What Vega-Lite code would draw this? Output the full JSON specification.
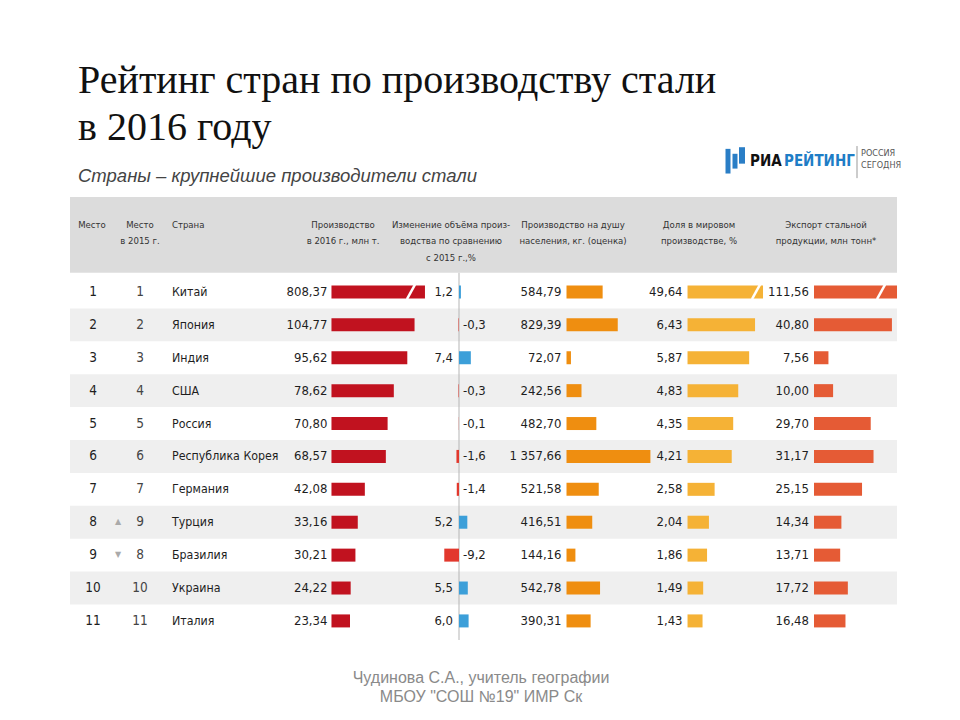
{
  "$schema": "https://vega.github.io/schema/vega-lite/v6.json",
  "width": 960,
  "height": 720,
  "padding": 0,
  "autosize": "none",
  "background": "white",
  "config": {
    "view": {"stroke": null},
    "locale": {"number": {"decimal": ",", "thousands": " ", "grouping": [3], "currency": ["", ""], "minus": "-"}},
    "text": {"font": "'Liberation Sans Narrow', 'DejaVu Sans Condensed', 'Liberation Sans', sans-serif", "color": "#1e1e1e"}
  },
  "datasets": {
    "steel": [
      {"rank": 1, "rank2015": 1, "country": "Китай", "production": 808.37, "change": 1.2, "percap": 584.79, "share": 49.64, "export": 111.56},
      {"rank": 2, "rank2015": 2, "country": "Япония", "production": 104.77, "change": -0.3, "percap": 829.39, "share": 6.43, "export": 40.80},
      {"rank": 3, "rank2015": 3, "country": "Индия", "production": 95.62, "change": 7.4, "percap": 72.07, "share": 5.87, "export": 7.56},
      {"rank": 4, "rank2015": 4, "country": "США", "production": 78.62, "change": -0.3, "percap": 242.56, "share": 4.83, "export": 10.00},
      {"rank": 5, "rank2015": 5, "country": "Россия", "production": 70.80, "change": -0.1, "percap": 482.70, "share": 4.35, "export": 29.70},
      {"rank": 6, "rank2015": 6, "country": "Республика Корея", "production": 68.57, "change": -1.6, "percap": 1357.66, "share": 4.21, "export": 31.17},
      {"rank": 7, "rank2015": 7, "country": "Германия", "production": 42.08, "change": -1.4, "percap": 521.58, "share": 2.58, "export": 25.15},
      {"rank": 8, "rank2015": 9, "country": "Турция", "production": 33.16, "change": 5.2, "percap": 416.51, "share": 2.04, "export": 14.34},
      {"rank": 9, "rank2015": 8, "country": "Бразилия", "production": 30.21, "change": -9.2, "percap": 144.16, "share": 1.86, "export": 13.71},
      {"rank": 10, "rank2015": 10, "country": "Украина", "production": 24.22, "change": 5.5, "percap": 542.78, "share": 1.49, "export": 17.72},
      {"rank": 11, "rank2015": 11, "country": "Италия", "production": 23.34, "change": 6.0, "percap": 390.31, "share": 1.43, "export": 16.48}
    ]
  },
  "resolve": {"scale": {"x": "independent"}},
  "layer": [
    {
      "layer": [
        {"data": {"values": [{}]}, "mark": {"type": "rect", "color": "#dcdcdc"},
         "encoding": {"x": {"datum": 70, "type": "quantitative", "scale": {"domain": [0, 960], "nice": false, "zero": false}, "axis": null}, "x2": {"datum": 897},
                      "y": {"datum": -1.888, "type": "quantitative", "scale": {"domain": [-7.875, 14.012], "reverse": true, "nice": false, "zero": false}, "axis": null}, "y2": {"datum": 0.42}}},
        {"data": {"name": "steel"}, "transform": [{"filter": "datum.rank % 2 === 0"}],
         "mark": {"type": "rule", "color": "#efefef", "strokeWidth": 32.9},
         "encoding": {"x": {"datum": 70, "type": "quantitative", "scale": {"domain": [0, 960], "nice": false, "zero": false}, "axis": null}, "x2": {"datum": 897},
                      "y": {"field": "rank", "type": "quantitative", "scale": {"domain": [-7.875, 14.012], "reverse": true, "nice": false, "zero": false}, "axis": null}}},
        {"data": {"values": [{}]}, "mark": {"type": "text", "text": ["Рейтинг стран по производству стали", "в 2016 году"], "align": "left", "baseline": "alphabetic", "font": "Liberation Serif", "fontSize": 40, "lineHeight": 47, "color": "#111"},
         "encoding": {"x": {"datum": 78, "type": "quantitative", "scale": {"domain": [0, 960], "nice": false, "zero": false}, "axis": null},
                      "y": {"datum": -5.049, "type": "quantitative", "scale": {"domain": [-7.875, 14.012], "reverse": true, "nice": false, "zero": false}, "axis": null}}},
        {"data": {"values": [{}]}, "mark": {"type": "text", "text": "Страны – крупнейшие производители стали", "align": "left", "baseline": "alphabetic", "font": "Liberation Sans", "fontStyle": "italic", "fontSize": 18.5, "color": "#444"},
         "encoding": {"x": {"datum": 78, "type": "quantitative", "scale": {"domain": [0, 960], "nice": false, "zero": false}, "axis": null},
                      "y": {"datum": -2.353, "type": "quantitative", "scale": {"domain": [-7.875, 14.012], "reverse": true, "nice": false, "zero": false}, "axis": null}}},
        {"data": {"values": [{}]}, "mark": {"type": "rule", "color": "#2a7ec6", "strokeWidth": 5},
         "encoding": {"x": {"datum": 728, "type": "quantitative", "scale": {"domain": [0, 960], "nice": false, "zero": false}, "axis": null},
                      "y": {"datum": -3.35, "type": "quantitative", "scale": {"domain": [-7.875, 14.012], "reverse": true, "nice": false, "zero": false}, "axis": null}, "y2": {"datum": -2.6}}},
        {"data": {"values": [{}]}, "mark": {"type": "rule", "color": "#2a7ec6", "strokeWidth": 5},
         "encoding": {"x": {"datum": 735, "type": "quantitative", "scale": {"domain": [0, 960], "nice": false, "zero": false}, "axis": null},
                      "y": {"datum": -3.2, "type": "quantitative", "scale": {"domain": [-7.875, 14.012], "reverse": true, "nice": false, "zero": false}, "axis": null}, "y2": {"datum": -2.75}}},
        {"data": {"values": [{}]}, "mark": {"type": "rule", "color": "#2a7ec6", "strokeWidth": 6},
         "encoding": {"x": {"datum": 742, "type": "quantitative", "scale": {"domain": [0, 960], "nice": false, "zero": false}, "axis": null},
                      "y": {"datum": -3.4, "type": "quantitative", "scale": {"domain": [-7.875, 14.012], "reverse": true, "nice": false, "zero": false}, "axis": null}, "y2": {"datum": -2.9}}},
        {"data": {"values": [{}]}, "mark": {"type": "text", "text": "РИА", "align": "left", "baseline": "middle", "fontSize": 15, "fontWeight": "bold", "color": "#111"},
         "encoding": {"x": {"datum": 750, "type": "quantitative", "scale": {"domain": [0, 960], "nice": false, "zero": false}, "axis": null},
                      "y": {"datum": -2.98, "type": "quantitative", "scale": {"domain": [-7.875, 14.012], "reverse": true, "nice": false, "zero": false}, "axis": null}}},
        {"data": {"values": [{}]}, "mark": {"type": "text", "text": "РЕЙТИНГ", "align": "left", "baseline": "middle", "fontSize": 15, "fontWeight": "bold", "color": "#1e7dc6"},
         "encoding": {"x": {"datum": 784, "type": "quantitative", "scale": {"domain": [0, 960], "nice": false, "zero": false}, "axis": null},
                      "y": {"datum": -2.98, "type": "quantitative", "scale": {"domain": [-7.875, 14.012], "reverse": true, "nice": false, "zero": false}, "axis": null}}},
        {"data": {"values": [{}]}, "mark": {"type": "rule", "color": "#999", "strokeWidth": 1},
         "encoding": {"x": {"datum": 857, "type": "quantitative", "scale": {"domain": [0, 960], "nice": false, "zero": false}, "axis": null},
                      "y": {"datum": -3.435, "type": "quantitative", "scale": {"domain": [-7.875, 14.012], "reverse": true, "nice": false, "zero": false}, "axis": null}, "y2": {"datum": -2.46}}},
        {"data": {"values": [{}]}, "mark": {"type": "text", "text": ["РОССИЯ", "СЕГОДНЯ"], "align": "left", "baseline": "top", "fontSize": 9, "lineHeight": 12, "color": "#555"},
         "encoding": {"x": {"datum": 861, "type": "quantitative", "scale": {"domain": [0, 960], "nice": false, "zero": false}, "axis": null},
                      "y": {"datum": -3.36, "type": "quantitative", "scale": {"domain": [-7.875, 14.012], "reverse": true, "nice": false, "zero": false}, "axis": null}}},
        {"data": {"values": [{}]}, "mark": {"type": "text", "text": "Место", "align": "center", "baseline": "top", "fontSize": 9.5, "lineHeight": 16.5, "color": "#333"},
         "encoding": {"x": {"datum": 92, "type": "quantitative", "scale": {"domain": [0, 960], "nice": false, "zero": false}, "axis": null},
                      "y": {"datum": -1.2, "type": "quantitative", "scale": {"domain": [-7.875, 14.012], "reverse": true, "nice": false, "zero": false}, "axis": null}}},
        {"data": {"values": [{}]}, "mark": {"type": "text", "text": ["Место", "в 2015 г."], "align": "center", "baseline": "top", "fontSize": 9.5, "lineHeight": 16.5, "color": "#333"},
         "encoding": {"x": {"datum": 140, "type": "quantitative", "scale": {"domain": [0, 960], "nice": false, "zero": false}, "axis": null},
                      "y": {"datum": -1.2, "type": "quantitative", "scale": {"domain": [-7.875, 14.012], "reverse": true, "nice": false, "zero": false}, "axis": null}}},
        {"data": {"values": [{}]}, "mark": {"type": "text", "text": "Страна", "align": "left", "baseline": "top", "fontSize": 9.5, "lineHeight": 16.5, "color": "#333"},
         "encoding": {"x": {"datum": 172, "type": "quantitative", "scale": {"domain": [0, 960], "nice": false, "zero": false}, "axis": null},
                      "y": {"datum": -1.2, "type": "quantitative", "scale": {"domain": [-7.875, 14.012], "reverse": true, "nice": false, "zero": false}, "axis": null}}},
        {"data": {"values": [{}]}, "mark": {"type": "text", "text": ["Производство", "в 2016 г., млн т."], "align": "center", "baseline": "top", "fontSize": 9.5, "lineHeight": 16.5, "color": "#333"},
         "encoding": {"x": {"datum": 343, "type": "quantitative", "scale": {"domain": [0, 960], "nice": false, "zero": false}, "axis": null},
                      "y": {"datum": -1.2, "type": "quantitative", "scale": {"domain": [-7.875, 14.012], "reverse": true, "nice": false, "zero": false}, "axis": null}}},
        {"data": {"values": [{}]}, "mark": {"type": "text", "text": ["Изменение объёма произ-", "водства по сравнению", "с 2015 г.,%"], "align": "center", "baseline": "top", "fontSize": 9.5, "lineHeight": 16.5, "color": "#333"},
         "encoding": {"x": {"datum": 451, "type": "quantitative", "scale": {"domain": [0, 960], "nice": false, "zero": false}, "axis": null},
                      "y": {"datum": -1.2, "type": "quantitative", "scale": {"domain": [-7.875, 14.012], "reverse": true, "nice": false, "zero": false}, "axis": null}}},
        {"data": {"values": [{}]}, "mark": {"type": "text", "text": ["Производство на душу", "населения, кг. (оценка)"], "align": "center", "baseline": "top", "fontSize": 9.5, "lineHeight": 16.5, "color": "#333"},
         "encoding": {"x": {"datum": 573, "type": "quantitative", "scale": {"domain": [0, 960], "nice": false, "zero": false}, "axis": null},
                      "y": {"datum": -1.2, "type": "quantitative", "scale": {"domain": [-7.875, 14.012], "reverse": true, "nice": false, "zero": false}, "axis": null}}},
        {"data": {"values": [{}]}, "mark": {"type": "text", "text": ["Доля в мировом", "производстве, %"], "align": "center", "baseline": "top", "fontSize": 9.5, "lineHeight": 16.5, "color": "#333"},
         "encoding": {"x": {"datum": 699, "type": "quantitative", "scale": {"domain": [0, 960], "nice": false, "zero": false}, "axis": null},
                      "y": {"datum": -1.2, "type": "quantitative", "scale": {"domain": [-7.875, 14.012], "reverse": true, "nice": false, "zero": false}, "axis": null}}},
        {"data": {"values": [{}]}, "mark": {"type": "text", "text": ["Экспорт стальной", "продукции, млн тонн*"], "align": "center", "baseline": "top", "fontSize": 9.5, "lineHeight": 16.5, "color": "#333"},
         "encoding": {"x": {"datum": 826, "type": "quantitative", "scale": {"domain": [0, 960], "nice": false, "zero": false}, "axis": null},
                      "y": {"datum": -1.2, "type": "quantitative", "scale": {"domain": [-7.875, 14.012], "reverse": true, "nice": false, "zero": false}, "axis": null}}},
        {"data": {"name": "steel"}, "mark": {"type": "text", "align": "center", "baseline": "middle", "fontSize": 13.5},
         "encoding": {"x": {"datum": 93, "type": "quantitative", "scale": {"domain": [0, 960], "nice": false, "zero": false}, "axis": null},
                      "y": {"field": "rank", "type": "quantitative", "scale": {"domain": [-7.875, 14.012], "reverse": true, "nice": false, "zero": false}, "axis": null},
                      "text": {"field": "rank", "type": "quantitative"}}},
        {"data": {"name": "steel"}, "mark": {"type": "text", "align": "center", "baseline": "middle", "fontSize": 13.5, "color": "#444"},
         "encoding": {"x": {"datum": 140, "type": "quantitative", "scale": {"domain": [0, 960], "nice": false, "zero": false}, "axis": null},
                      "y": {"field": "rank", "type": "quantitative", "scale": {"domain": [-7.875, 14.012], "reverse": true, "nice": false, "zero": false}, "axis": null},
                      "text": {"field": "rank2015", "type": "quantitative"}}},
        {"data": {"name": "steel"}, "transform": [{"filter": "datum.rank < datum.rank2015"}], "mark": {"type": "text", "text": "▲", "align": "center", "baseline": "middle", "fontSize": 8, "font": "DejaVu Sans", "color": "#aaa"},
         "encoding": {"x": {"datum": 118, "type": "quantitative", "scale": {"domain": [0, 960], "nice": false, "zero": false}, "axis": null},
                      "y": {"field": "rank", "type": "quantitative", "scale": {"domain": [-7.875, 14.012], "reverse": true, "nice": false, "zero": false}, "axis": null}}},
        {"data": {"name": "steel"}, "transform": [{"filter": "datum.rank > datum.rank2015"}], "mark": {"type": "text", "text": "▼", "align": "center", "baseline": "middle", "fontSize": 8, "font": "DejaVu Sans", "color": "#aaa"},
         "encoding": {"x": {"datum": 118, "type": "quantitative", "scale": {"domain": [0, 960], "nice": false, "zero": false}, "axis": null},
                      "y": {"field": "rank", "type": "quantitative", "scale": {"domain": [-7.875, 14.012], "reverse": true, "nice": false, "zero": false}, "axis": null}}},
        {"data": {"name": "steel"}, "mark": {"type": "text", "align": "left", "baseline": "middle", "fontSize": 12.3},
         "encoding": {"x": {"datum": 172, "type": "quantitative", "scale": {"domain": [0, 960], "nice": false, "zero": false}, "axis": null},
                      "y": {"field": "rank", "type": "quantitative", "scale": {"domain": [-7.875, 14.012], "reverse": true, "nice": false, "zero": false}, "axis": null},
                      "text": {"field": "country", "type": "nominal"}}},
        {"data": {"values": [{}]}, "mark": {"type": "text", "text": ["Чудинова С.А., учитель географии", "МБОУ \"СОШ №19\" ИМР Ск"], "align": "center", "baseline": "alphabetic", "font": "Liberation Sans", "fontSize": 16, "lineHeight": 19, "color": "#8a8a8a"},
         "encoding": {"x": {"datum": 481, "type": "quantitative", "scale": {"domain": [0, 960], "nice": false, "zero": false}, "axis": null},
                      "y": {"datum": 12.885, "type": "quantitative", "scale": {"domain": [-7.875, 14.012], "reverse": true, "nice": false, "zero": false}, "axis": null}}}
      ]
    },
    {
      "layer": [
        {"data": {"name": "steel"}, "transform": [{"filter": "datum.rank > 1"}], "mark": {"type": "rule", "color": "#c1121f", "strokeWidth": 13},
         "encoding": {"x": {"field": "production", "type": "quantitative", "scale": {"domain": [-418.0, 792.6], "nice": false, "zero": false}, "axis": null}, "x2": {"datum": 0},
                      "y": {"field": "rank", "type": "quantitative", "scale": {"domain": [-7.875, 14.012], "reverse": true, "nice": false, "zero": false}, "axis": null}}},
        {"data": {"name": "steel"}, "transform": [{"filter": "datum.rank === 1"}], "mark": {"type": "rule", "color": "#c1121f", "strokeWidth": 13},
         "encoding": {"x": {"datum": 117.9, "type": "quantitative", "scale": {"domain": [-418.0, 792.6], "nice": false, "zero": false}, "axis": null}, "x2": {"datum": 0},
                      "y": {"field": "rank", "type": "quantitative", "scale": {"domain": [-7.875, 14.012], "reverse": true, "nice": false, "zero": false}, "axis": null}}},
        {"data": {"values": [{}]}, "mark": {"type": "rule", "color": "white", "strokeWidth": 2.5},
         "encoding": {"x": {"datum": 95.2, "type": "quantitative", "scale": {"domain": [-418.0, 792.6], "nice": false, "zero": false}, "axis": null}, "x2": {"datum": 105.3},
                      "y": {"datum": 1.22, "type": "quantitative", "scale": {"domain": [-7.875, 14.012], "reverse": true, "nice": false, "zero": false}, "axis": null}, "y2": {"datum": 0.78}}},
        {"data": {"name": "steel"}, "mark": {"type": "text", "align": "right", "baseline": "middle", "dx": -4, "fontSize": 13},
         "encoding": {"x": {"datum": 0, "type": "quantitative", "scale": {"domain": [-418.0, 792.6], "nice": false, "zero": false}, "axis": null},
                      "y": {"field": "rank", "type": "quantitative", "scale": {"domain": [-7.875, 14.012], "reverse": true, "nice": false, "zero": false}, "axis": null},
                      "text": {"field": "production", "type": "quantitative", "format": ".2f"}}}
      ]
    },
    {
      "layer": [
        {"data": {"values": [{}]}, "mark": {"type": "rule", "color": "#b5b5b5", "strokeWidth": 1},
         "encoding": {"x": {"datum": 0, "type": "quantitative", "scale": {"domain": [-286.875, 313.125], "nice": false, "zero": false}, "axis": null},
                      "y": {"datum": 0.42, "type": "quantitative", "scale": {"domain": [-7.875, 14.012], "reverse": true, "nice": false, "zero": false}, "axis": null}, "y2": {"datum": 11.58}}},
        {"data": {"name": "steel"}, "mark": {"type": "rule", "strokeWidth": 13},
         "encoding": {"x": {"field": "change", "type": "quantitative", "scale": {"domain": [-286.875, 313.125], "nice": false, "zero": false}, "axis": null}, "x2": {"datum": 0},
                      "y": {"field": "rank", "type": "quantitative", "scale": {"domain": [-7.875, 14.012], "reverse": true, "nice": false, "zero": false}, "axis": null},
                      "color": {"condition": {"test": "datum.change > 0", "value": "#3c9fd9"}, "value": "#e2382d"}}},
        {"data": {"name": "steel"}, "transform": [{"filter": "datum.change > 0"}], "mark": {"type": "text", "align": "right", "baseline": "middle", "dx": -6, "fontSize": 13},
         "encoding": {"x": {"datum": 0, "type": "quantitative", "scale": {"domain": [-286.875, 313.125], "nice": false, "zero": false}, "axis": null},
                      "y": {"field": "rank", "type": "quantitative", "scale": {"domain": [-7.875, 14.012], "reverse": true, "nice": false, "zero": false}, "axis": null},
                      "text": {"field": "change", "type": "quantitative", "format": ".1f"}}},
        {"data": {"name": "steel"}, "transform": [{"filter": "datum.change < 0"}], "mark": {"type": "text", "align": "left", "baseline": "middle", "dx": 4, "fontSize": 13},
         "encoding": {"x": {"datum": 0, "type": "quantitative", "scale": {"domain": [-286.875, 313.125], "nice": false, "zero": false}, "axis": null},
                      "y": {"field": "rank", "type": "quantitative", "scale": {"domain": [-7.875, 14.012], "reverse": true, "nice": false, "zero": false}, "axis": null},
                      "text": {"field": "change", "type": "quantitative", "format": ".1f"}}}
      ]
    },
    {
      "layer": [
        {"data": {"name": "steel"}, "mark": {"type": "rule", "color": "#ef8e10", "strokeWidth": 13},
         "encoding": {"x": {"field": "percap", "type": "quantitative", "scale": {"domain": [-9166.7, 6367.3], "nice": false, "zero": false}, "axis": null}, "x2": {"datum": 0},
                      "y": {"field": "rank", "type": "quantitative", "scale": {"domain": [-7.875, 14.012], "reverse": true, "nice": false, "zero": false}, "axis": null}}},
        {"data": {"name": "steel"}, "mark": {"type": "text", "align": "right", "baseline": "middle", "dx": -5, "fontSize": 13},
         "encoding": {"x": {"datum": 0, "type": "quantitative", "scale": {"domain": [-9166.7, 6367.3], "nice": false, "zero": false}, "axis": null},
                      "y": {"field": "rank", "type": "quantitative", "scale": {"domain": [-7.875, 14.012], "reverse": true, "nice": false, "zero": false}, "axis": null},
                      "text": {"field": "percap", "type": "quantitative", "format": ",.2f"}}}
      ]
    },
    {
      "layer": [
        {"data": {"name": "steel"}, "transform": [{"filter": "datum.rank > 1"}], "mark": {"type": "rule", "color": "#f5b236", "strokeWidth": 13},
         "encoding": {"x": {"field": "share", "type": "quantitative", "scale": {"domain": [-65.48, 25.95], "nice": false, "zero": false}, "axis": null}, "x2": {"datum": 0},
                      "y": {"field": "rank", "type": "quantitative", "scale": {"domain": [-7.875, 14.012], "reverse": true, "nice": false, "zero": false}, "axis": null}}},
        {"data": {"name": "steel"}, "transform": [{"filter": "datum.rank === 1"}], "mark": {"type": "rule", "color": "#f5b236", "strokeWidth": 13},
         "encoding": {"x": {"datum": 7.19, "type": "quantitative", "scale": {"domain": [-65.48, 25.95], "nice": false, "zero": false}, "axis": null}, "x2": {"datum": 0},
                      "y": {"field": "rank", "type": "quantitative", "scale": {"domain": [-7.875, 14.012], "reverse": true, "nice": false, "zero": false}, "axis": null}}},
        {"data": {"values": [{}]}, "mark": {"type": "rule", "color": "white", "strokeWidth": 2.5},
         "encoding": {"x": {"datum": 6.14, "type": "quantitative", "scale": {"domain": [-65.48, 25.95], "nice": false, "zero": false}, "axis": null}, "x2": {"datum": 6.9},
                      "y": {"datum": 1.22, "type": "quantitative", "scale": {"domain": [-7.875, 14.012], "reverse": true, "nice": false, "zero": false}, "axis": null}, "y2": {"datum": 0.78}}},
        {"data": {"name": "steel"}, "mark": {"type": "text", "align": "right", "baseline": "middle", "dx": -5, "fontSize": 13},
         "encoding": {"x": {"datum": 0, "type": "quantitative", "scale": {"domain": [-65.48, 25.95], "nice": false, "zero": false}, "axis": null},
                      "y": {"field": "rank", "type": "quantitative", "scale": {"domain": [-7.875, 14.012], "reverse": true, "nice": false, "zero": false}, "axis": null},
                      "text": {"field": "share", "type": "quantitative", "format": ".2f"}}}
      ]
    },
    {
      "layer": [
        {"data": {"name": "steel"}, "transform": [{"filter": "datum.rank > 1"}], "mark": {"type": "rule", "color": "#e55b35", "strokeWidth": 13},
         "encoding": {"x": {"field": "export", "type": "quantitative", "scale": {"domain": [-426.18, 76.44], "nice": false, "zero": false}, "axis": null}, "x2": {"datum": 0},
                      "y": {"field": "rank", "type": "quantitative", "scale": {"domain": [-7.875, 14.012], "reverse": true, "nice": false, "zero": false}, "axis": null}}},
        {"data": {"name": "steel"}, "transform": [{"filter": "datum.rank === 1"}], "mark": {"type": "rule", "color": "#e55b35", "strokeWidth": 13},
         "encoding": {"x": {"datum": 43.46, "type": "quantitative", "scale": {"domain": [-426.18, 76.44], "nice": false, "zero": false}, "axis": null}, "x2": {"datum": 0},
                      "y": {"field": "rank", "type": "quantitative", "scale": {"domain": [-7.875, 14.012], "reverse": true, "nice": false, "zero": false}, "axis": null}}},
        {"data": {"values": [{}]}, "mark": {"type": "rule", "color": "white", "strokeWidth": 2.5},
         "encoding": {"x": {"datum": 33.0, "type": "quantitative", "scale": {"domain": [-426.18, 76.44], "nice": false, "zero": false}, "axis": null}, "x2": {"datum": 37.2},
                      "y": {"datum": 1.22, "type": "quantitative", "scale": {"domain": [-7.875, 14.012], "reverse": true, "nice": false, "zero": false}, "axis": null}, "y2": {"datum": 0.78}}},
        {"data": {"name": "steel"}, "mark": {"type": "text", "align": "right", "baseline": "middle", "dx": -5, "fontSize": 13},
         "encoding": {"x": {"datum": 0, "type": "quantitative", "scale": {"domain": [-426.18, 76.44], "nice": false, "zero": false}, "axis": null},
                      "y": {"field": "rank", "type": "quantitative", "scale": {"domain": [-7.875, 14.012], "reverse": true, "nice": false, "zero": false}, "axis": null},
                      "text": {"field": "export", "type": "quantitative", "format": ".2f"}}}
      ]
    }
  ]
}
